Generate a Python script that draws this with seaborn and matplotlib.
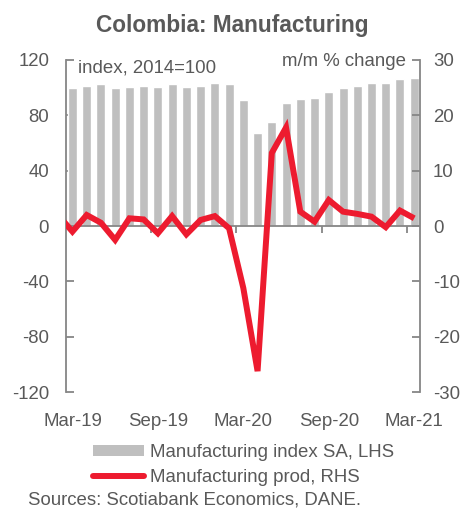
import matplotlib
matplotlib.use("Agg")
import matplotlib.pyplot as plt
from matplotlib.patches import Patch
from matplotlib.lines import Line2D
import seaborn as sns
import pandas as pd

# Monthly categories, Mar-2019 .. Mar-2021
months = ["Mar-19", "Apr-19", "May-19", "Jun-19", "Jul-19", "Aug-19", "Sep-19",
          "Oct-19", "Nov-19", "Dec-19", "Jan-20", "Feb-20", "Mar-20", "Apr-20",
          "May-20", "Jun-20", "Jul-20", "Aug-20", "Sep-20", "Oct-20", "Nov-20",
          "Dec-20", "Jan-21", "Feb-21", "Mar-21"]

# Manufacturing index SA (2014=100), left axis
index_sa = [99.5, 101.4, 102.4, 99.5, 100.5, 101.4, 100.5, 102.4, 100.5, 101.4,
            103.4, 102.4, 90.9, 67.1, 75.5, 89.0, 91.6, 92.8, 96.6, 99.5,
            101.4, 103.4, 103.4, 106.0, 107.2]

# Manufacturing production, m/m % change, right axis (starts at Feb-19)
mm_change = [2.0, -1.0, 2.0, 0.6, -2.5, 1.4, 1.2, -1.3, 1.8, -1.5, 1.1, 1.8,
             -0.4, -11.2, -26.2, 13.2, 17.8, 2.6, 0.8, 4.7, 2.6, 2.2, 1.7,
             -0.2, 2.8, 1.4]

tick_labels = ["Mar-19", "Sep-19", "Mar-20", "Sep-20", "Mar-21"]

GREY_TXT = "#595959"
AXIS = "#868686"
BAR = "#bfbfbf"
RED = "#ed1b2f"
FS = 13.4

sns.set_theme(style="white")
plt.rcParams["font.family"] = ["Liberation Sans", "DejaVu Sans"]
plt.rcParams["axes.unicode_minus"] = False

bars_df = pd.DataFrame({"month": months, "index": index_sa})
line_df = pd.DataFrame({"pos": list(range(-1, len(months))), "mm": mm_change})

fig = plt.figure(figsize=(4.64, 5.08), dpi=100)
ax = fig.add_axes([0.142, 0.228, 0.763, 0.654])

sns.barplot(data=bars_df, x="month", y="index", color=BAR, saturation=1,
            width=0.63, ax=ax, zorder=2)
ax.axhline(0, color=AXIS, lw=1.3, zorder=3)

ax2 = ax.twinx()
sns.lineplot(data=line_df, x="pos", y="mm", color=RED, lw=4.3, ax=ax2,
             zorder=4, solid_joinstyle="miter", solid_capstyle="butt")

ax.set_xlim(-0.46, len(months) - 0.6)
ax.set_ylim(-120, 120)
ax2.set_ylim(-30, 30)
ax.set_yticks(range(-120, 121, 40))
ax2.set_yticks(range(-30, 31, 10))

for a in (ax, ax2):
    a.set_xlabel("")
    a.set_ylabel("")
    for s in a.spines.values():
        s.set_visible(False)

ax.spines["left"].set_visible(True)
ax.spines["left"].set_color(AXIS)
ax.spines["left"].set_linewidth(1.3)
ax2.spines["right"].set_visible(True)
ax2.spines["right"].set_color(AXIS)
ax2.spines["right"].set_linewidth(1.3)

ax.tick_params(axis="y", direction="in", length=6, width=1.3, color=AXIS,
               labelsize=FS, labelcolor=GREY_TXT, pad=12, left=True)
ax2.tick_params(axis="y", direction="in", length=6, width=1.3, color=AXIS,
                labelsize=FS, labelcolor=GREY_TXT, pad=9.5, right=True)

# Month labels along the bottom, no tick marks there
ax.set_xticks([months.index(m) for m in tick_labels])
ax.set_xticklabels(tick_labels)
ax.tick_params(axis="x", length=0, labelsize=FS, labelcolor=GREY_TXT, pad=15)

# Half-year ticks hanging from the zero line between bars
zero_axis = ax.secondary_xaxis(0.5)
zero_axis.set_zorder(6)
zero_axis.spines["bottom"].set_visible(False)
zero_axis.spines["top"].set_visible(False)
zero_axis.set_xticks([months.index(m) - 0.5 for m in tick_labels])
zero_axis.set_xticklabels([])
zero_axis.tick_params(axis="x", direction="in", length=5, width=1.3,
                      color=AXIS)

ax.text(0.035, 1.0, "index, 2014=100", transform=ax.transAxes, ha="left",
        va="top", fontsize=FS, color=GREY_TXT)
ax.text(0.96, 1.02, "m/m % change", transform=ax.transAxes, ha="right",
        va="top", fontsize=FS, color=GREY_TXT)

fig.text(0.5, 0.949, "Colombia: Manufacturing", ha="center", va="center",
         fontsize=16.3, fontweight="bold", color=GREY_TXT)

handles = [Patch(facecolor=BAR, edgecolor="none"),
           Line2D([0], [0], color=RED, lw=4.3, solid_capstyle="round")]
fig.legend(handles, ["Manufacturing index SA, LHS", "Manufacturing prod, RHS"],
           loc="upper left", bbox_to_anchor=(0.2, 0.126), frameon=False,
           fontsize=FS, labelcolor=GREY_TXT, handlelength=2.75,
           handleheight=0.6, handletextpad=0.3, labelspacing=0.45,
           borderpad=0, borderaxespad=0)

fig.text(0.06, 0.016, "Sources: Scotiabank Economics, DANE.", ha="left",
         va="center", fontsize=FS, color=GREY_TXT)

fig.savefig("out.png", dpi=100)
